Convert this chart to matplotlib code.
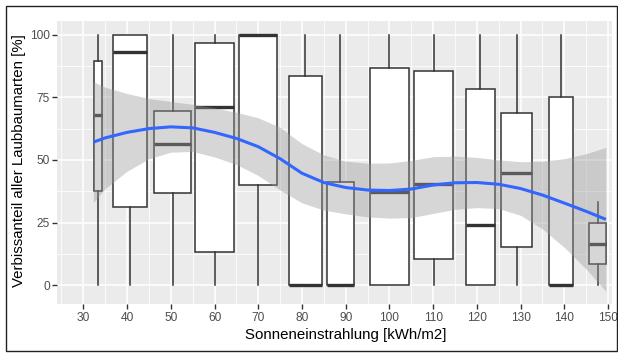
import matplotlib
matplotlib.use("Agg")
import matplotlib.pyplot as plt
from matplotlib.patches import Rectangle

plt.rcParams['font.family'] = ['Liberation Sans', 'DejaVu Sans']

# ---- data ----
box_pos = [33.3, 40.65, 50.4, 60.05, 69.95, 80.75, 88.8, 99.98, 110.1, 120.8, 129.07, 139.3, 147.6]
box_width = [1.92, 7.85, 8.3, 8.9, 8.85, 7.55, 6.3, 8.85, 8.8, 6.55, 7.2, 5.56, 3.75]
whis_lo = [0, 0, 0, 0, 0, 0, 0, 0, 0, 0, 0, 0, 0]
q1 = [37.5, 31.2, 36.7, 13.4, 40.1, 0, 0, 0, 10.5, 0, 15.4, 0, 8.4]
median = [68.0, 93.0, 56.4, 71.3, 100.0, 0, 0, 37.2, 40.3, 24.1, 44.7, 0, 16.6]
q3 = [89.4, 100.0, 69.7, 96.7, 100.0, 83.4, 41.2, 86.8, 85.5, 78.2, 68.8, 75.0, 25.0]
whis_hi = [100, 100, 100, 100, 100, 100, 100, 100, 100, 100, 100, 100, 33.1]

smooth_x = [32.3, 35, 40, 45, 50, 55, 60, 65, 70, 75, 80, 85, 90, 95, 100, 105, 110, 115,
            120, 125, 130, 135, 140, 145, 149.5]
smooth_fit = [57.1, 58.8, 61.0, 62.5, 63.2, 62.8, 61.0, 58.6, 55.3, 50.5, 44.7, 41.0, 39.0,
              38.0, 37.8, 38.4, 40.0, 40.9, 41.0, 40.3, 38.6, 36.0, 32.8, 29.5, 26.3]
smooth_hi = [81.2, 79.0, 76.5, 74.5, 73.3, 72.2, 70.8, 69.0, 66.8, 63.0, 56.5, 52.0, 49.5,
             48.7, 48.8, 49.8, 51.3, 51.5, 51.0, 50.0, 49.3, 49.5, 50.5, 52.5, 55.0]
smooth_lo = [33.0, 38.6, 45.5, 50.5, 53.1, 53.4, 51.2, 48.2, 43.8, 38.0, 32.9, 30.0, 28.5,
             27.3, 26.8, 27.0, 28.7, 30.3, 31.0, 30.6, 27.9, 22.5, 15.1, 6.5, -2.4]

x_ticks = [30, 40, 50, 60, 70, 80, 90, 100, 110, 120, 130, 140, 150]
y_ticks = [0, 25, 50, 75, 100]
x_label = "Sonneneinstrahlung [kWh/m2]"
y_label = "Verbissanteil aller Laubbaumarten [%]"

# ---- figure ----
W, H = 618, 354
fig = plt.figure(figsize=(W / 100, H / 100), dpi=100)
fig.patch.set_facecolor('white')
L, R, T, B = 57.3, 612.0, 21.3, 304.0
ax = fig.add_axes([L / W, 1 - B / H, (R - L) / W, (B - T) / H])
ax.set_facecolor('#EBEBEB')
ax.set_xlim(24.05, 150.9)
ax.set_ylim(-7.45, 105.3)

# grid
for v in [25, 35, 45, 55, 65, 75, 85, 95, 105, 115, 125, 135, 145]:
    ax.axvline(v, color='white', lw=0.55, zorder=0.5)
for v in [12.5, 37.5, 62.5, 87.5]:
    ax.axhline(v, color='white', lw=0.55, zorder=0.5)
for v in x_ticks:
    ax.axvline(v, color='white', lw=1.1, zorder=0.6)
for v in y_ticks:
    ax.axhline(v, color='white', lw=1.1, zorder=0.6)

stats = []
for i in range(len(box_pos)):
    stats.append(dict(med=median[i], q1=q1[i], q3=q3[i], whislo=whis_lo[i], whishi=whis_hi[i], fliers=[]))
ax.bxp(stats, positions=box_pos, widths=box_width, patch_artist=True, showcaps=False,
       manage_ticks=False,
       boxprops=dict(facecolor='white', edgecolor='#333333', linewidth=1.1),
       whiskerprops=dict(color='#333333', linewidth=1.1),
       medianprops=dict(color='#333333', linewidth=2.4, solid_capstyle='butt'),
       zorder=2)

ax.fill_between(smooth_x, smooth_lo, smooth_hi, color='#999999', alpha=0.4, lw=0, zorder=3)
ax.plot(smooth_x, smooth_fit, color='#3366FF', lw=2.2, zorder=4, solid_capstyle='butt')

for s in ax.spines.values():
    s.set_visible(False)
ax.set_xticks(x_ticks)
ax.set_yticks(y_ticks)
ax.tick_params(axis='both', colors='#333333', length=3.5, width=1.0, labelsize=8.6,
               labelcolor='#4D4D4D', pad=2)
ax.set_xlabel(x_label, fontsize=10.8, color='black')
ax.set_ylabel(y_label, fontsize=10.8, color='black')
ax.xaxis.set_label_coords((345.5 - L) / (R - L), -(335 - B) / (B - T), transform=ax.transAxes)
ax.yaxis.set_label_coords(-(L - 18.8) / (R - L), (B - 160.7) / (B - T), transform=ax.transAxes)
ax.xaxis.label.set_va('center')
ax.yaxis.label.set_va('center')

# outer border
fig.patches.append(Rectangle((5.5 / W, 1 - 350.5 / H), (616.5 - 5.5) / W, (350.5 - 5.5) / H,
                             transform=fig.transFigure, fill=False, edgecolor='#222222', lw=1.0))

fig.savefig('out.png', dpi=100)
